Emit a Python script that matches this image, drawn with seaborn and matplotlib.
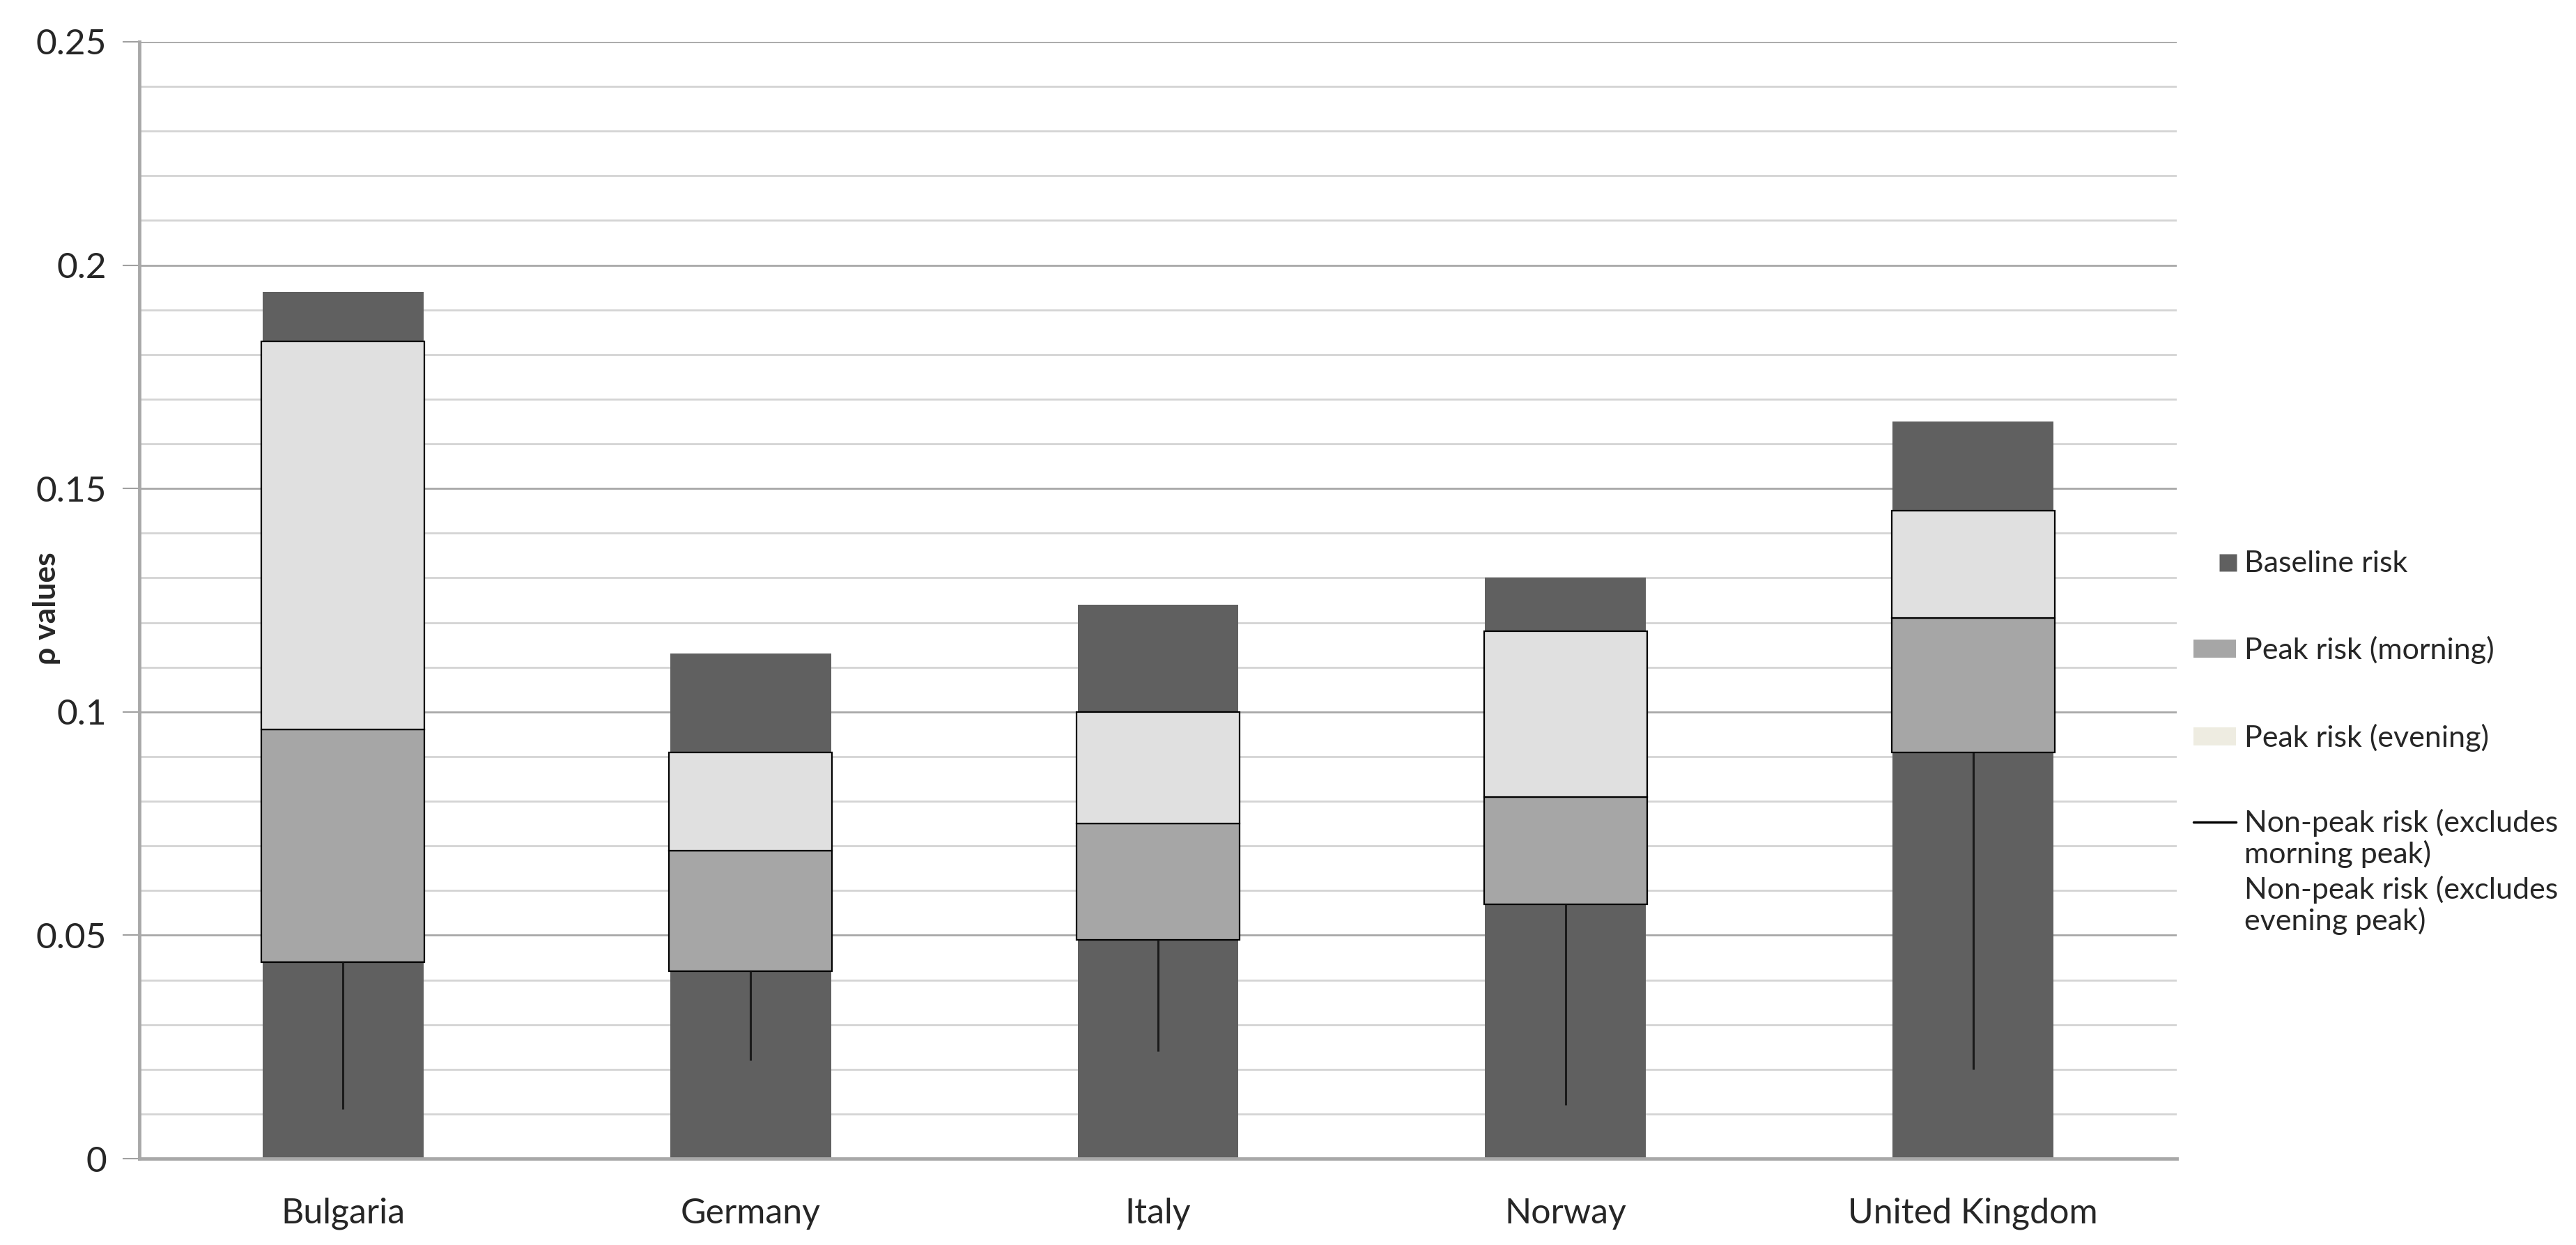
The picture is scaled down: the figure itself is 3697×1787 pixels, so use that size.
import numpy as np
import pandas as pd
import matplotlib
matplotlib.use("Agg")
import matplotlib.pyplot as plt
import seaborn as sns
from matplotlib.lines import Line2D
from matplotlib.patches import Patch
from matplotlib.legend_handler import HandlerLine2D

countries = ["Bulgaria", "Germany", "Italy", "Norway", "United Kingdom"]
baseline_risk = [0.194, 0.113, 0.124, 0.130, 0.165]
peak_evening = [0.183, 0.091, 0.100, 0.118, 0.145]
peak_morning = [0.096, 0.069, 0.075, 0.081, 0.121]
nonpeak_excl_morning = [0.044, 0.042, 0.049, 0.057, 0.091]
nonpeak_excl_evening = [0.011, 0.022, 0.024, 0.012, 0.020]
yticks = [0, 0.05, 0.1, 0.15, 0.2, 0.25]
ytick_labels = ["0", "0.05", "0.1", "0.15", "0.2", "0.25"]

sns.set_theme(style="white")
plt.rcParams["font.family"] = ["Lato", "DejaVu Sans"]

FS = 37
FS_X = 36
FS_LEG = 31
fig = plt.figure(figsize=(36.97, 17.87), dpi=100)
ax = fig.add_axes([200 / 3697, 1 - 1663 / 1787, (3124 - 200) / 3697, (1663 - 60) / 1787])

df = pd.DataFrame({"country": countries, "baseline": baseline_risk})
sns.barplot(data=df, x="country", y="baseline", color="#606060", saturation=1,
            width=0.395, ax=ax, zorder=2, edgecolor="none")

pos = np.arange(len(countries))
bw = 0.4
ax.bar(pos, np.array(peak_morning) - np.array(nonpeak_excl_morning), bottom=nonpeak_excl_morning,
       width=bw, color="#A6A6A6", edgecolor="black", linewidth=1.6, zorder=3)
ax.bar(pos, np.array(peak_evening) - np.array(peak_morning), bottom=peak_morning,
       width=bw, color="#E0E0E0", edgecolor="black", linewidth=1.6, zorder=3)
ax.vlines(pos, nonpeak_excl_evening, nonpeak_excl_morning, color="#1a1a1a", linewidth=2.2, zorder=4)

ax.set_xlim(-0.5, len(countries) - 0.5)
ax.set_ylim(0, 0.25)
ax.set_yticks(yticks)
ax.set_yticklabels(ytick_labels, fontsize=FS)
ax.set_yticks(np.arange(0, 0.2501, 0.01), minor=True)
ax.grid(True, which="minor", axis="y", color="#D4D4D4", linewidth=2.0, zorder=0)
ax.grid(True, which="major", axis="y", color="#A8A8A8", linewidth=2.0, zorder=0)
ax.grid(False, axis="x")
ax.set_axisbelow(True)

ax.set_xticks(np.arange(-0.5, len(countries), 1.0), minor=True)
ax.set_xticks(pos)
ax.set_xticklabels(countries, fontsize=FS_X)
ax.tick_params(axis="x", which="major", length=0, pad=40)
ax.tick_params(axis="x", which="minor", length=17, width=1.5, color="#A0A0A0", direction="out")
ax.tick_params(axis="y", which="major", length=17, width=1.5, color="#A0A0A0", direction="out", pad=17, left=True)
ax.tick_params(axis="y", which="minor", length=0)
ax.set_xlabel("")
ax.set_ylabel("ρ values", fontsize=FS_LEG + 1, fontweight="bold")
ax.yaxis.set_label_coords(-0.0386, 0.493)

for s in ["top", "right"]:
    ax.spines[s].set_visible(False)
ax.spines["left"].set_color("#A8A8A8")
ax.spines["left"].set_linewidth(3.5)
ax.spines["bottom"].set_color("#A8A8A8")
ax.spines["bottom"].set_linewidth(3.5)


def square_right(lh, oh):
    lh.update_from(oh)
    xd = np.asarray(lh.get_xdata(), dtype=float)
    lh.set_xdata([xd[0], xd[-1] - 9, xd[-1]])


def line_up(lh, oh):
    lh.update_from(oh)
    yd = np.asarray(lh.get_ydata(), dtype=float)
    lh.set_ydata(yd + 17)


sq_handle = Line2D([0], [0], marker="s", color="none", markerfacecolor="#606060",
                   markeredgecolor="none", markersize=18)
handles_a = [
    sq_handle,
    Patch(facecolor="#A6A6A6", edgecolor="none"),
    Patch(facecolor="#EEECE1", edgecolor="none"),
]
labels_a = ["Baseline risk", "Peak risk (morning)", "Peak risk (evening)"]
leg_a = fig.legend(handles_a, labels_a, loc="upper left", bbox_to_anchor=(3148 / 3697, 1 - 790 / 1787),
                   frameon=False, fontsize=FS_LEG, handlelength=1.42, handletextpad=0.28,
                   labelspacing=1.98, borderpad=0, borderaxespad=0, handleheight=0.55,
                   handler_map={sq_handle: HandlerLine2D(update_func=square_right)})

np_handle = Line2D([0], [0], color="black", linewidth=2.5)
handles_b = [np_handle, Line2D([0], [0], color="none")]
labels_b = ["Non-peak risk (excludes\nmorning peak)", "Non-peak risk (excludes\nevening peak)"]
leg_b = fig.legend(handles_b, labels_b, loc="upper left", bbox_to_anchor=(3148 / 3697, 1 - 1161 / 1787),
                   frameon=False, fontsize=FS_LEG, handlelength=1.42, handletextpad=0.28,
                   labelspacing=0.25, borderpad=0, borderaxespad=0,
                   handler_map={np_handle: HandlerLine2D(update_func=line_up)})
for t in leg_b.get_texts():
    t.set_linespacing(1.15)

fig.savefig("out.png", dpi=100, facecolor="white")
